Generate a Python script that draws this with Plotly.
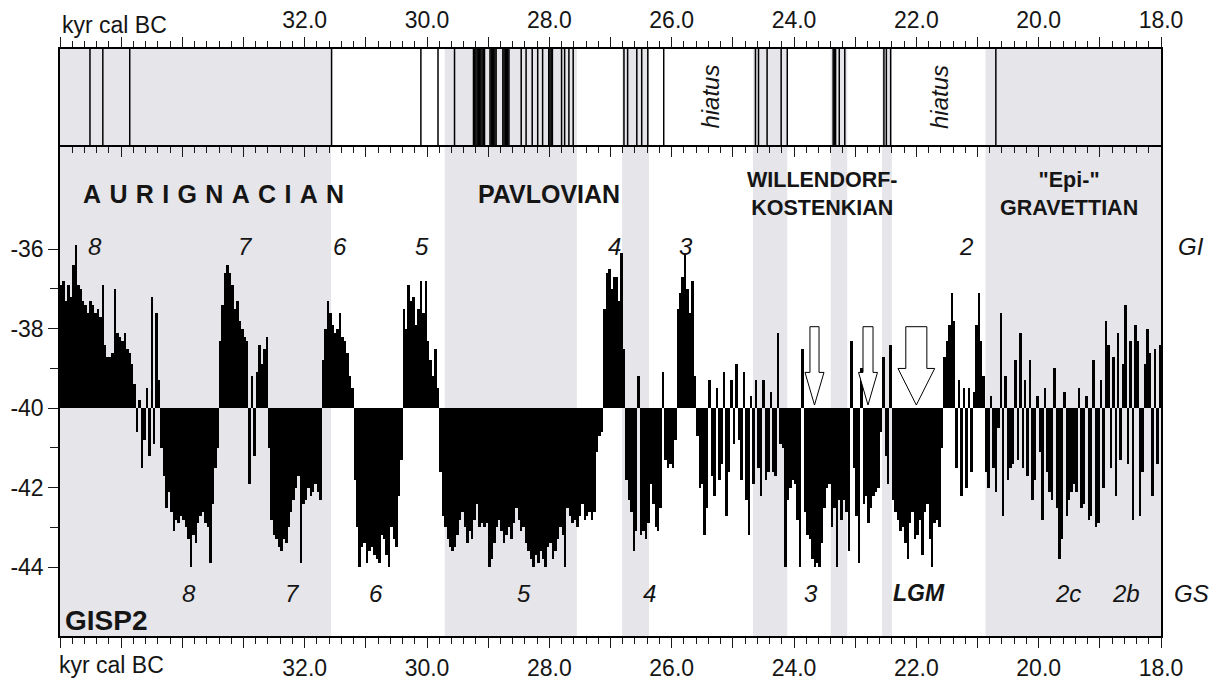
import numpy as np
import plotly.graph_objects as go

# GISP2 oxygen-isotope record, binned every 0.04 kyr from 36.0 to 18.0 kyr cal BC
AGE_OLD, AGE_YOUNG = 36.0, 18.0
STEP = 0.04
BASELINE = -40.0

d18o_36_34 = [-36.9, -36.8, -37.3, -36.9, -37.2, -36.4, -35.9, -36.9, -37.0, -37.3,
              -37.4, -37.6, -37.3, -37.4, -37.6, -37.5, -37.7, -36.9, -38.4, -38.7,
              -38.7, -38.6, -37.0, -38.1, -38.2, -38.3, -38.1, -38.5, -38.6, -38.9,
              -39.4, -40.6, -39.8, -41.5, -40.8, -39.5, -41.2, -37.2, -40.9, -37.6,
              -39.3, -41.0, -41.7, -42.5, -42.1, -42.6, -43.1, -42.8, -42.9, -42.7]
d18o_34_32 = [-42.8, -43.0, -43.3, -44.0, -43.2, -43.4, -42.9, -42.7, -42.6, -42.9,
              -43.0, -43.9, -42.4, -41.5, -41.0, -38.3, -37.4, -36.6, -36.4, -36.6,
              -36.9, -37.5, -37.3, -37.8, -38.0, -38.2, -38.3, -41.9, -39.2, -41.2,
              -39.1, -38.4, -38.9, -38.5, -38.2, -41.0, -42.8, -43.2, -43.3, -43.5,
              -43.6, -43.3, -43.4, -43.0, -42.6, -42.3, -42.0, -41.7, -43.9, -42.4]
d18o_32_30 = [-42.3, -42.0, -42.2, -42.1, -41.9, -42.1, -42.3, -38.8, -38.0, -37.3,
              -37.6, -37.9, -38.1, -38.0, -37.6, -38.2, -38.3, -38.6, -39.2, -39.5,
              -41.8, -43.0, -44.0, -43.5, -43.4, -43.9, -43.6, -43.5, -43.7, -43.8,
              -43.9, -43.2, -43.3, -43.7, -44.0, -43.0, -43.3, -43.5, -42.2, -41.3,
              -37.5, -38.0, -36.9, -37.3, -37.2, -37.9, -37.5, -36.8, -37.6, -36.8]
d18o_30_28 = [-38.3, -38.8, -39.2, -38.5, -39.5, -41.6, -42.7, -43.0, -43.3, -43.5,
              -43.6, -43.5, -43.2, -42.8, -42.6, -43.0, -43.4, -43.1, -43.3, -42.8,
              -42.4, -43.0, -42.9, -43.0, -42.9, -44.0, -43.8, -43.4, -43.0, -42.8,
              -43.1, -43.4, -43.2, -43.0, -43.3, -42.9, -42.5, -42.8, -43.1, -43.0,
              -43.4, -43.6, -43.8, -44.0, -43.7, -43.9, -43.6, -43.8, -44.0, -43.5]
d18o_28_26 = [-43.4, -43.8, -43.6, -43.3, -43.0, -43.2, -44.0, -42.5, -42.7, -42.9,
              -42.8, -43.0, -42.7, -42.4, -42.8, -42.7, -42.6, -42.8, -42.6, -41.1,
              -40.7, -40.6, -37.5, -36.6, -36.5, -37.0, -36.7, -36.7, -37.3, -36.1,
              -38.5, -41.8, -42.3, -42.6, -43.6, -43.1, -39.2, -43.2, -43.1, -43.3,
              -42.9, -41.9, -42.4, -43.0, -43.1, -42.5, -39.1, -41.3, -41.5, -41.4]
d18o_26_24 = [-41.5, -40.8, -37.5, -37.1, -36.7, -36.1, -37.0, -37.6, -36.8, -39.2,
              -40.7, -42.0, -41.9, -43.2, -42.5, -39.3, -41.7, -42.2, -39.5, -41.8,
              -41.4, -39.1, -42.7, -41.6, -39.3, -40.9, -38.9, -40.8, -41.8, -39.1,
              -42.3, -43.2, -39.7, -41.9, -39.3, -41.5, -42.2, -39.3, -41.8, -41.6,
              -39.6, -41.6, -41.7, -38.1, -40.9, -41.0, -44.0, -42.3, -42.0, -41.8]
d18o_24_22 = [-41.9, -42.8, -44.0, -38.5, -42.6, -43.2, -43.3, -43.8, -44.0, -43.9,
              -44.0, -43.4, -42.5, -42.0, -41.9, -43.0, -42.5, -44.0, -42.3, -42.8,
              -42.3, -42.6, -43.6, -38.3, -41.5, -42.7, -43.9, -39.0, -42.4, -42.2,
              -42.9, -42.5, -42.2, -42.1, -42.0, -40.6, -38.7, -41.2, -41.9, -38.4,
              -42.3, -42.6, -42.8, -43.1, -43.0, -43.4, -43.8, -42.9, -42.6, -43.3]
d18o_22_20 = [-43.2, -42.8, -43.7, -42.6, -42.4, -43.3, -44.0, -42.9, -42.8, -43.0,
              -41.0, -38.7, -38.3, -37.9, -37.1, -37.8, -41.5, -39.3, -42.2, -39.5,
              -42.0, -39.5, -41.6, -39.6, -37.9, -37.1, -38.3, -39.2, -41.6, -42.0,
              -39.7, -41.5, -42.1, -40.5, -37.6, -42.7, -39.2, -41.8, -41.5, -41.4,
              -38.8, -41.3, -38.1, -41.5, -39.3, -41.7, -38.8, -42.3, -41.8, -39.7]
d18o_20_18 = [-41.1, -42.8, -39.5, -41.6, -42.1, -42.3, -39.0, -42.5, -43.8, -43.3,
              -39.6, -42.7, -42.3, -42.1, -41.9, -42.1, -39.5, -42.5, -42.4, -39.7,
              -42.8, -42.7, -38.8, -43.0, -42.9, -39.3, -42.0, -37.8, -38.4, -41.5,
              -38.7, -42.2, -38.1, -41.3, -38.9, -37.4, -41.4, -38.3, -42.8, -37.9,
              -38.3, -42.7, -41.6, -38.9, -38.0, -38.6, -42.2, -38.5, -41.4, -38.4]

# radiocarbon-dated occupation layers (kyr cal BC)
date_ages = [35.51, 35.30, 34.86, 31.56, 30.10, 29.82, 29.55,
             29.24, 29.22, 29.20, 29.18, 29.16, 29.14, 29.12, 29.10, 29.08, 29.06,
             28.97, 28.95, 28.93, 28.91, 28.89, 28.87,
             28.76, 28.74, 28.72, 28.70, 28.68, 28.66,
             28.46, 28.38, 28.28, 28.19, 28.11, 28.01, 27.99, 27.97, 27.95,
             27.80, 27.75, 27.68, 27.61,
             26.78, 26.72, 26.57, 26.49, 26.39, 26.13,
             24.63, 24.58, 24.44, 24.21, 24.11,
             23.36, 23.34, 23.32, 23.26, 23.17,
             22.53, 22.49, 22.42, 20.70]

# shaded time windows (older, younger)
band_start = [36.0, 29.71, 26.81, 24.67, 23.40, 22.56, 20.87]
band_end = [31.57, 27.55, 26.37, 24.11, 23.13, 22.40, 18.0]

# interstadial (GI) and stadial (GS) numbering
gi_text = ["8", "7", "6", "5", "4", "3", "2"]
gi_ages = [35.43, 32.97, 31.43, 30.08, 26.94, 25.77, 21.19]
gs_text = ["8", "7", "6", "5", "4", "3", "2c", "2b"]
gs_ages = [33.89, 32.20, 30.84, 28.41, 26.36, 23.73, 19.52, 18.57]
lgm_age = 21.96

# cultural periods
culture_text = ["A\u2004U\u2004R\u2004I\u2004G\u2004N\u2004A\u2004C\u2004I\u2004A\u2004N",
                "PAVLOVIAN", "WILLENDORF-<br>KOSTENKIAN", "\"Epi-\"<br>GRAVETTIAN"]
culture_ages = [33.49, 28.0, 23.54, 19.50]
culture_size = [25, 25, 21.5, 21.5]

hiatus_ages = [25.38, 21.63]

# downward arrows (centre age, shaft half-width, head half-width)
arrow_ages = [23.665, 22.79, 22.0]
arrow_shaft = [0.074, 0.082, 0.172]
arrow_head = [0.155, 0.155, 0.30]
arrow_neck = [-39.1, -39.1, -39.0]
ARROW_TOP, ARROW_TIP = -37.95, -39.92

FONT = "Liberation Sans, Arial, Helvetica, sans-serif"
INK = "#151515"
BAND = "#e5e5ea"
TICK_C = "#1a1a1a"
TICK_W = 1.3

d18o = np.array(d18o_36_34 + d18o_34_32 + d18o_32_30 + d18o_30_28 + d18o_28_26
                + d18o_26_24 + d18o_24_22 + d18o_22_20 + d18o_20_18)
ages = AGE_OLD - STEP * (np.arange(d18o.size) + 0.5)

fig = go.Figure()

fig.add_trace(go.Bar(
    x=ages, y=d18o - BASELINE, base=BASELINE, width=STEP,
    marker=dict(color="black", line=dict(width=0)),
    xaxis="x", yaxis="y", showlegend=False, hoverinfo="skip"))

# dated layers as vertical strokes in the upper strip
lx, ly = [], []
for a in date_ages:
    lx += [a, a, None]
    ly += [0, 1, None]
fig.add_trace(go.Scatter(x=lx, y=ly, mode="lines",
                         line=dict(color="black", width=1.5),
                         xaxis="x2", yaxis="y2", showlegend=False, hoverinfo="skip"))

# invisible carriers so every overlay tick axis is rendered
for xa, ya, yv in [("x3", "y", BASELINE), ("x4", "y", BASELINE), ("x5", "y", BASELINE),
                   ("x6", "y2", 0.5), ("x", "y3", BASELINE)]:
    fig.add_trace(go.Scatter(x=[30], y=[yv], mode="markers", marker=dict(opacity=0),
                             xaxis=xa, yaxis=ya, showlegend=False, hoverinfo="skip"))

major_vals = list(range(18, 37))
major_text = [f"{v:.1f}" if (v <= 32 and v % 2 == 0) else "" for v in major_vals]
minor_vals = [round(18 + 0.2 * k, 1) for k in range(91) if k % 5]

tick_font = dict(family=FONT, size=23, color=INK)
base_x = dict(range=[AGE_OLD, AGE_YOUNG], showgrid=False, zeroline=False,
              automargin=False, linecolor="black", linewidth=1.5, tickmode="array",
              tickcolor=TICK_C, tickwidth=TICK_W, tickfont=tick_font)

SPLIT = 489 / 587

fig.update_layout(
    width=1225, height=681,
    margin=dict(l=60, r=64, t=49, b=45, autoexpand=False),
    paper_bgcolor="white", plot_bgcolor="rgba(0,0,0,0)",
    bargap=0, showlegend=False,
    font=dict(family=FONT, color=INK),
    # main panel: bottom axis (short ticks + long labelled ticks)
    xaxis=dict(base_x, anchor="y", side="bottom", showline=True, ticks="outside",
               tickvals=minor_vals, ticklen=6, showticklabels=False),
    xaxis4=dict(base_x, anchor="y", overlaying="x", side="bottom", showline=False,
                ticks="outside", tickvals=major_vals, ticktext=major_text, ticklen=11),
    # main panel: inward ticks along its top edge
    xaxis3=dict(base_x, anchor="y", overlaying="x", side="top", showline=True,
                ticks="inside", tickvals=minor_vals, ticklen=6, showticklabels=False),
    xaxis5=dict(base_x, anchor="y", overlaying="x", side="top", showline=False,
                ticks="inside", tickvals=major_vals, ticklen=10, showticklabels=False),
    # upper strip: top axis
    xaxis2=dict(base_x, anchor="y2", side="top", showline=True, ticks="outside",
                tickvals=minor_vals, ticklen=6, showticklabels=False),
    xaxis6=dict(base_x, anchor="y2", overlaying="x2", side="top", showline=False,
                ticks="outside", tickvals=major_vals, ticktext=major_text, ticklen=11),
    yaxis=dict(domain=[0, SPLIT], range=[-45.73, -33.43], anchor="x",
               showgrid=False, zeroline=False, showline=True, mirror=True,
               automargin=False, linecolor="black", linewidth=1.5, tickmode="array",
               tickvals=[-44, -42, -40, -38, -36],
               ticktext=["-44", "-42", "-40", "-38", "-36"],
               ticks="outside", ticklen=10, tickcolor=TICK_C, tickwidth=TICK_W,
               tickfont=tick_font),
    yaxis3=dict(range=[-45.73, -33.43], anchor="x", overlaying="y", side="left",
                showgrid=False, zeroline=False, showline=False, automargin=False,
                tickmode="array", tickvals=[-43, -41, -39, -37], ticks="outside",
                ticklen=9, tickcolor=TICK_C, tickwidth=TICK_W, showticklabels=False),
    yaxis2=dict(domain=[SPLIT, 1], range=[0, 1], anchor="x2", automargin=False,
                showgrid=False, zeroline=False, showline=True, mirror=True,
                linecolor="black", linewidth=1.5, showticklabels=False, ticks=""),
)

shapes = []
for a0, a1 in zip(band_start, band_end):
    shapes.append(dict(type="rect", xref="x", yref="paper", x0=a0, x1=a1, y0=0, y1=1,
                       fillcolor=BAND, line=dict(width=0), layer="below"))
for a, s, h, n in zip(arrow_ages, arrow_shaft, arrow_head, arrow_neck):
    path = (f"M {a - s},{ARROW_TOP} L {a + s},{ARROW_TOP} L {a + s},{n} "
            f"L {a + h},{n} L {a},{ARROW_TIP} L {a - h},{n} L {a - s},{n} Z")
    shapes.append(dict(type="path", xref="x", yref="y", path=path,
                       fillcolor="white", line=dict(color="black", width=1), layer="above"))
fig.update_layout(shapes=shapes)

ann = []
# axis unit captions
ann.append(dict(text="kyr cal BC", xref="paper", yref="paper", x=0.0, y=1.0415,
                xanchor="left", yanchor="middle", showarrow=False, font=tick_font))
ann.append(dict(text="kyr cal BC", xref="paper", yref="paper", x=-0.003, y=-0.0494,
                xanchor="left", yanchor="middle", showarrow=False, font=tick_font))
for t, a, s in zip(culture_text, culture_ages, culture_size):
    ann.append(dict(text=f"<b>{t}</b>", x=a, y=-34.6, xref="x", yref="y",
                    showarrow=False, xanchor="center", yanchor="middle",
                    font=dict(family=FONT, size=s, color=INK)))
for t, a in zip(gi_text, gi_ages):
    ann.append(dict(text=f"<i>{t}</i>", x=a, y=-35.93, xref="x", yref="y",
                    xanchor="center", showarrow=False,
                    font=dict(family=FONT, size=24, color=INK)))
for t, a in zip(gs_text, gs_ages):
    ann.append(dict(text=f"<i>{t}</i>", x=a, y=-44.65, xref="x", yref="y",
                    xanchor="center", showarrow=False,
                    font=dict(family=FONT, size=24, color=INK)))
ann.append(dict(text="<b><i>LGM</i></b>", x=lgm_age, y=-44.65, xref="x", yref="y",
                xanchor="center", showarrow=False,
                font=dict(family="Liberation Sans Narrow, " + FONT, size=23, color=INK)))
ann.append(dict(text="<i>GI</i>", xref="paper", yref="y", x=1.027, y=-35.93,
                xanchor="center", showarrow=False,
                font=dict(family=FONT, size=24, color=INK)))
ann.append(dict(text="<i>GS</i>", xref="paper", yref="y", x=1.028, y=-44.65,
                xanchor="center", showarrow=False,
                font=dict(family=FONT, size=24, color=INK)))
ann.append(dict(text="<b>GISP2</b>", xref="paper", yref="y", x=0.003, y=-45.33,
                xanchor="left", yanchor="middle", showarrow=False,
                font=dict(family=FONT, size=28, color=INK)))
for a in hiatus_ages:
    ann.append(dict(text="<i>hiatus</i>", x=a, y=0.51, xref="x2", yref="y2",
                    xanchor="center", textangle=-90, showarrow=False,
                    font=dict(family=FONT, size=24, color=INK)))
fig.update_layout(annotations=ann)

fig.write_html("out.html")
